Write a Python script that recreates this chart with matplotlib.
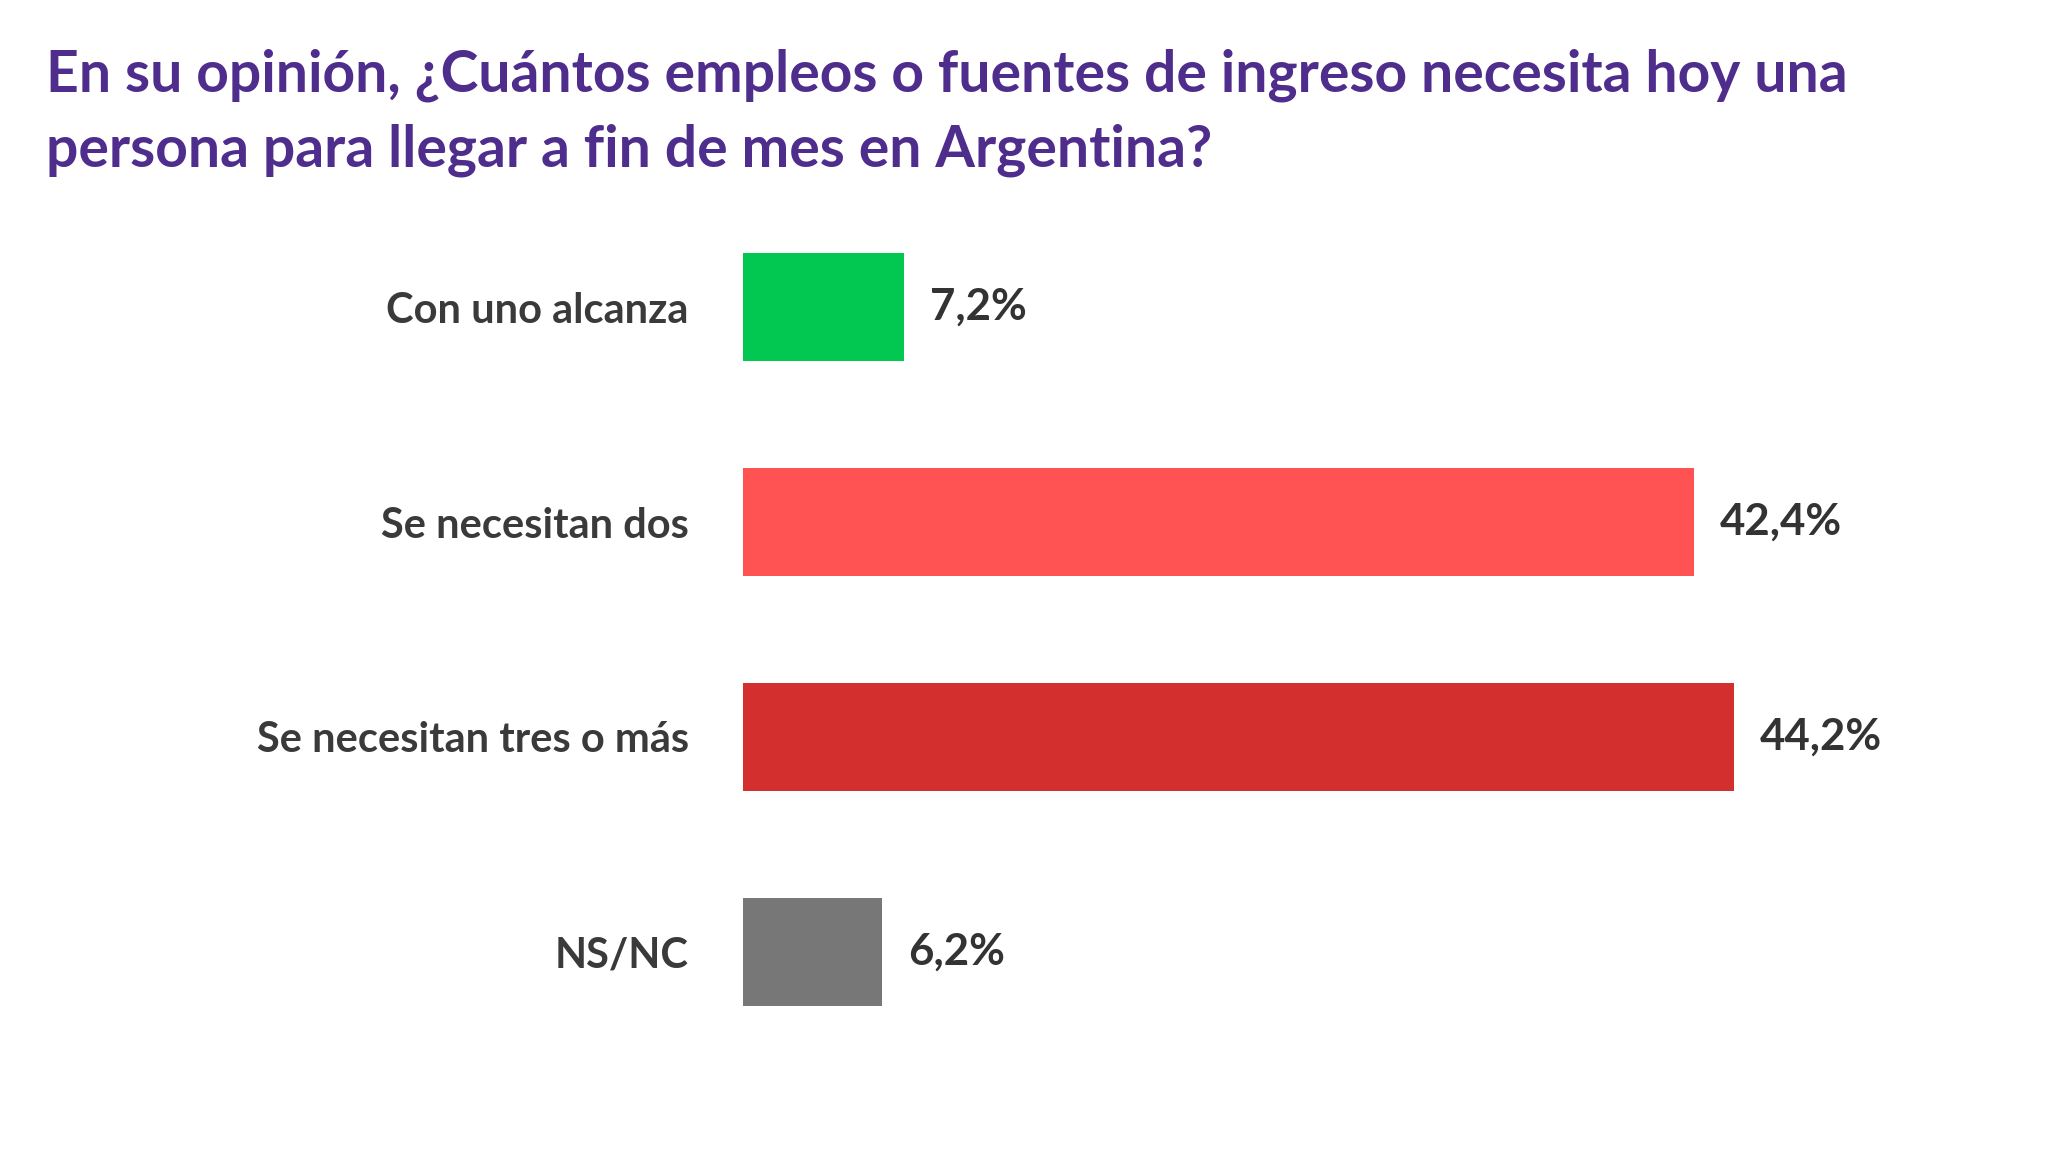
import matplotlib
matplotlib.use("Agg")
import matplotlib.pyplot as plt

# datos de la encuesta
categorias = ["Con uno alcanza", "Se necesitan dos", "Se necesitan tres o más", "NS/NC"]
valores = [7.2, 42.4, 44.2, 6.2]
etiquetas = ["7,2%", "42,4%", "44,2%", "6,2%"]
colores = ["#02C751", "#FF5252", "#D32F2F", "#777777"]

titulo = ("En su opinión, ¿Cuántos empleos o fuentes de ingreso necesita hoy una\n"
          "persona para llegar a fin de mes en Argentina?")

plt.rcParams['font.family'] = ['Lato', 'DejaVu Sans']

fig = plt.figure(figsize=(20.58, 11.56), dpi=100)
fig.patch.set_facecolor("white")
ax = fig.add_axes([0.361, 0.0835, 0.545, 0.7439])

pos = list(range(len(categorias)))
ax.barh(pos, valores, height=0.5, color=colores)
ax.set_xlim(0, 50)
ax.set_ylim(3.5, -0.5)

for p, v, t in zip(pos, valores, etiquetas):
    ax.text(v + 1.15, p, t, va="center", ha="left", fontsize=31.5,
            fontweight="bold", color="#333333")

ax.set_yticks(pos)
ax.set_yticklabels(categorias, fontsize=30, fontweight="bold", color="#3a3a3a")
ax.tick_params(axis="y", length=0, pad=39)
ax.set_xticks([])
for s in ax.spines.values():
    s.set_visible(False)

fig.text(0.0224, 0.958, titulo, ha="left", va="top", fontsize=41,
         fontweight="bold", color="#4F2D8C", linespacing=1.5)

fig.savefig("out.png", dpi=100, facecolor="white")
